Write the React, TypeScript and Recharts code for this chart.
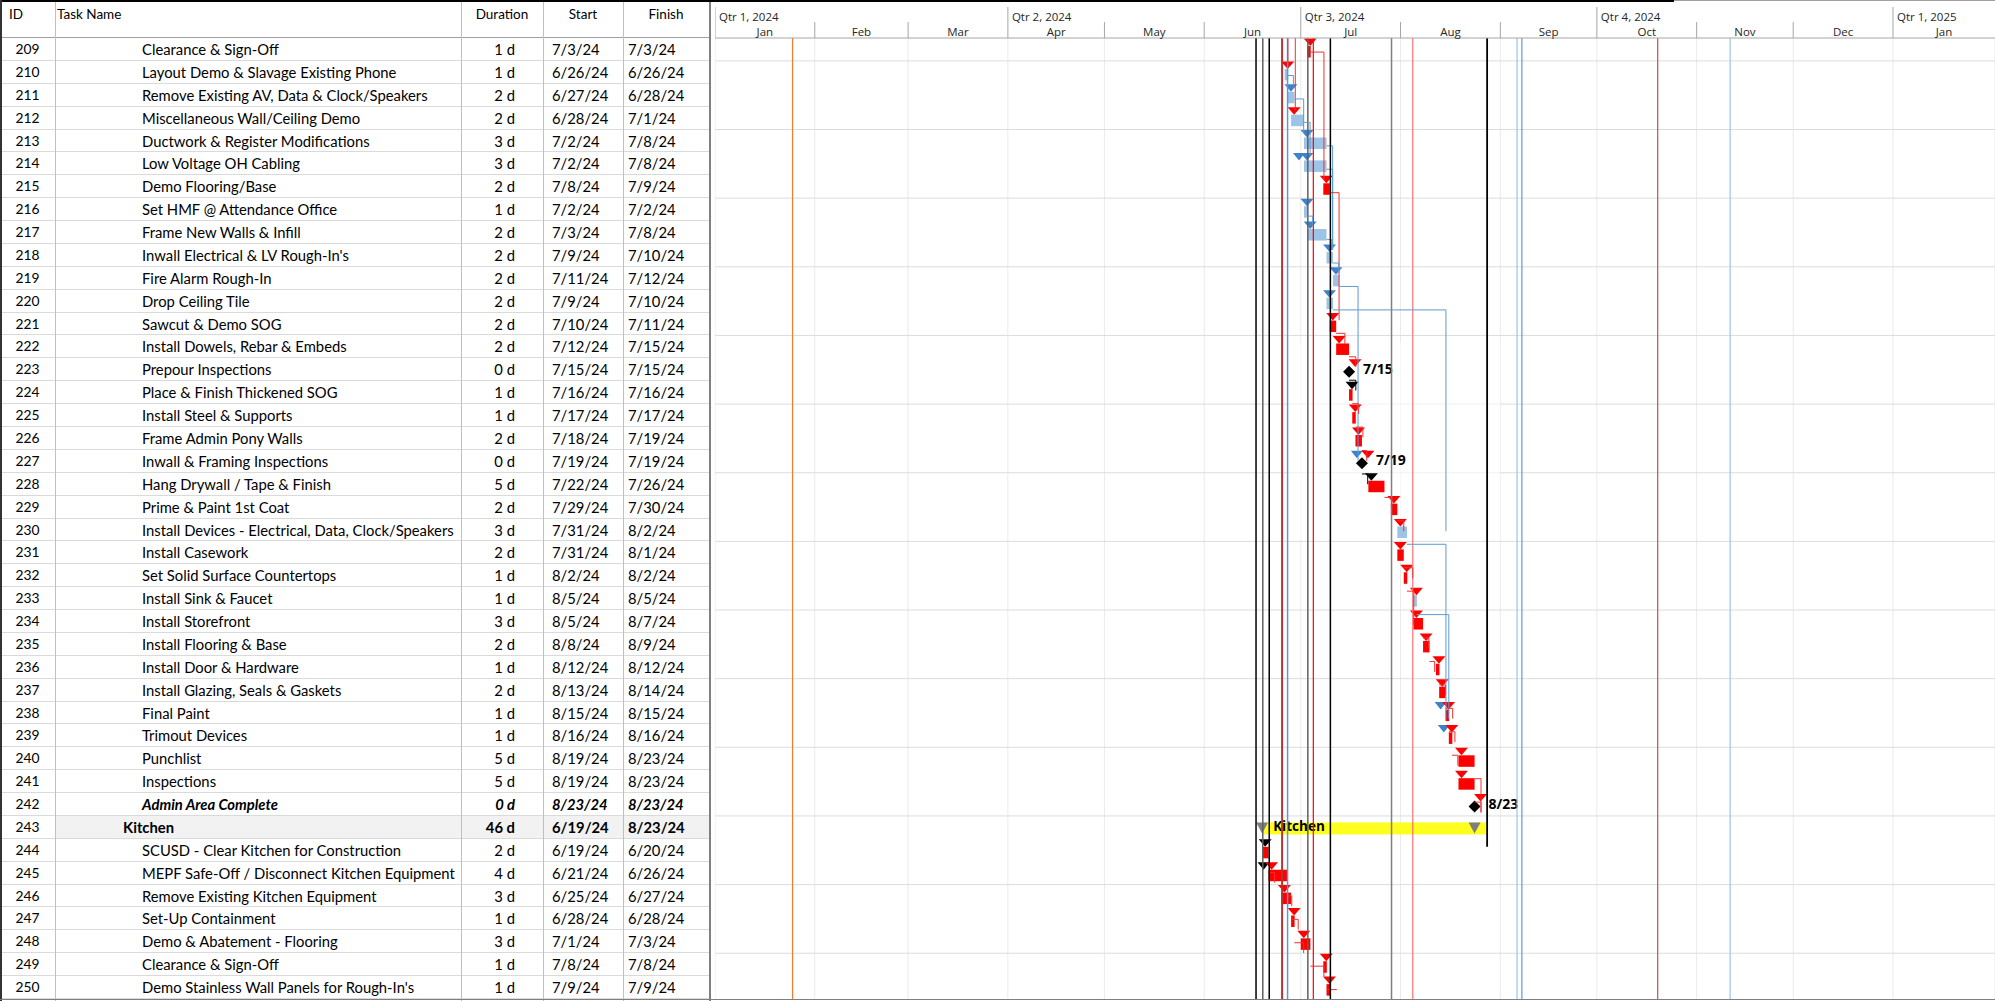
import React from 'react';
import { ComposedChart, Bar, XAxis, YAxis, CartesianGrid, ReferenceLine, ReferenceArea } from 'recharts';

// ---- task table ----
const ids = [
  209, 210, 211, 212, 213, 214, 215, 216, 217, 218, 219, 220, 221, 222, 223, 224, 225, 226, 227, 228, 229,
  230, 231, 232, 233, 234, 235, 236, 237, 238, 239, 240, 241, 242, 243, 244, 245, 246, 247, 248, 249, 250,
];

const taskNames = [
  'Clearance & Sign-Off',
  'Layout Demo & Slavage Existing Phone',
  'Remove Existing AV, Data & Clock/Speakers',
  'Miscellaneous Wall/Ceiling Demo',
  'Ductwork & Register Modifications',
  'Low Voltage OH Cabling',
  'Demo Flooring/Base',
  'Set HMF @ Attendance Office',
  'Frame New Walls & Infill',
  "Inwall Electrical & LV Rough-In's",
  'Fire Alarm Rough-In',
  'Drop Ceiling Tile',
  'Sawcut & Demo SOG',
  'Install Dowels, Rebar & Embeds',
  'Prepour Inspections',
  'Place & Finish Thickened SOG',
  'Install Steel & Supports',
  'Frame Admin Pony Walls',
  'Inwall & Framing Inspections',
  'Hang Drywall / Tape & Finish',
  'Prime & Paint 1st Coat',
  'Install Devices - Electrical, Data, Clock/Speakers',
  'Install Casework',
  'Set Solid Surface Countertops',
  'Install Sink & Faucet',
  'Install Storefront',
  'Install Flooring & Base',
  'Install Door & Hardware',
  'Install Glazing, Seals & Gaskets',
  'Final Paint',
  'Trimout Devices',
  'Punchlist',
  'Inspections',
  'Admin Area Complete',
  'Kitchen',
  'SCUSD - Clear Kitchen for Construction',
  'MEPF Safe-Off / Disconnect Kitchen Equipment',
  'Remove Existing Kitchen Equipment',
  'Set-Up Containment',
  'Demo & Abatement - Flooring',
  'Clearance & Sign-Off',
  "Demo Stainless Wall Panels for Rough-In's",
];

const durations = [
  '1 d', '1 d', '2 d', '2 d', '3 d', '3 d', '2 d', '1 d', '2 d', '2 d', '2 d', '2 d', '2 d', '2 d', '0 d',
  '1 d', '1 d', '2 d', '0 d', '5 d', '2 d', '3 d', '2 d', '1 d', '1 d', '3 d', '2 d', '1 d', '2 d', '1 d',
  '1 d', '5 d', '5 d', '0 d', '46 d', '2 d', '4 d', '3 d', '1 d', '3 d', '1 d', '1 d',
];

const startDates = [
  '7/3/24', '6/26/24', '6/27/24', '6/28/24', '7/2/24', '7/2/24', '7/8/24', '7/2/24', '7/3/24', '7/9/24',
  '7/11/24', '7/9/24', '7/10/24', '7/12/24', '7/15/24', '7/16/24', '7/17/24', '7/18/24', '7/19/24', '7/22/24',
  '7/29/24', '7/31/24', '7/31/24', '8/2/24', '8/5/24', '8/5/24', '8/8/24', '8/12/24', '8/13/24', '8/15/24',
  '8/16/24', '8/19/24', '8/19/24', '8/23/24', '6/19/24', '6/19/24', '6/21/24', '6/25/24', '6/28/24', '7/1/24',
  '7/8/24', '7/9/24',
];

const finishDates = [
  '7/3/24', '6/26/24', '6/28/24', '7/1/24', '7/8/24', '7/8/24', '7/9/24', '7/2/24', '7/8/24', '7/10/24',
  '7/12/24', '7/10/24', '7/11/24', '7/15/24', '7/15/24', '7/16/24', '7/17/24', '7/19/24', '7/19/24', '7/26/24',
  '7/30/24', '8/2/24', '8/1/24', '8/2/24', '8/5/24', '8/7/24', '8/9/24', '8/12/24', '8/14/24', '8/15/24',
  '8/16/24', '8/23/24', '8/23/24', '8/23/24', '8/23/24', '6/20/24', '6/26/24', '6/27/24', '6/28/24', '7/3/24',
  '7/8/24', '7/9/24',
];

// ---- bar styling by task ----
const summaryIds = [243];
const emphasisIds = [242];
const blueBarIds = [210, 211, 212, 213, 214, 216, 217, 218, 219, 220, 230, 233];
const markerColorById: Record<number, string> = {
  210: 'r', 212: 'r', 223: 'r', 227: 'r', 230: 'r', 233: 'r', 242: 'r', 224: 'k', 228: 'k', 244: 'k',
};
const secondMarkerById: Record<number, string> = { 214: 'b', 227: 'b', 238: 'b', 239: 'b', 245: 'k' };

// links: from task, day where the link drops, rows down, colour
const links: [number, number, number, string][] = [
  [209, 189.2, 6, 'r'], [210, 179.7, 1, 'b'], [211, 182.9, 2, 'b'], [212, 184.9, 2, 'b'],
  [213, 191.9, 5, 'b'], [214, 191.9, 4, 'b'], [215, 193.9, 6, 'r'], [216, 185.7, 1, 'b'],
  [217, 191.6, 1, 'b'], [218, 193.8, 1, 'b'], [219, 199.8, 8, 'b'], [220, 227.1, 10, 'b'],
  [221, 195.7, 1, 'r'], [222, 199.1, 1, 'r'], [223, 199.1, 1, 'k'], [224, 200.0, 1, 'r'],
  [225, 201.3, 1, 'r'], [226, 202.5, 1, 'r'], [227, 202.8, 1, 'k'], [228, 210.3, 1, 'r'],
  [229, 214.0, 1, 'r'], [230, 227.1, 8, 'b'], [231, 216.8, 1, 'r'], [232, 217.1, 2, 'r'],
  [233, 228.0, 5, 'b'], [234, 221.8, 1, 'r'], [235, 223.6, 1, 'r'], [236, 227.0, 1, 'r'],
  [237, 229.2, 1, 'r'], [238, 229.9, 1, 'r'], [239, 230.8, 1, 'r'], [240, 238.0, 2, 'r'],
  [241, 238.0, 1, 'r'], [244, 173.9, 1, 'r'], [245, 179.2, 1, 'r'], [246, 181.2, 1, 'r'],
  [247, 182.9, 1, 'r'], [248, 189.2, 1, 'r'], [249, 193.2, 1, 'r'], [250, 193.5, 1, 'r'],
];
// links coming in from tasks above the visible window
const incoming: [number, number, string][] = [[210, 178.0, 'r'], [212, 180.3, 'r']];

// ---- timescale ----
const monthStarts = [0, 31, 60, 91, 121, 152, 182, 213, 244, 274, 305, 335, 366];
const monthLabels = ['Jan', 'Feb', 'Mar', 'Apr', 'May', 'Jun', 'Jul', 'Aug', 'Sep', 'Oct', 'Nov', 'Dec', 'Jan'];
const quarterLabels = ['Qtr 1, 2024', 'Qtr 2, 2024', 'Qtr 3, 2024', 'Qtr 4, 2024', 'Qtr 1, 2025'];
const DOMAIN_END = 397.7;

// vertical marker lines (day, colour, width)
const markerLines: [number, string, number][] = [
  [24.1, '#ED7D31', 1.2], [170.2, '#606060', 1.5], [176.2, '#B83232', 2], [177.9, '#5B9BD5', 1.5],
  [184.2, '#606060', 1.5], [185.9, '#FF0000', 1.2], [210.2, '#7F7F7F', 1.5], [216.8, '#FF7070', 1.2],
  [249.2, '#9DC3E6', 1.2], [250.7, '#5B9BD5', 1.2], [292.9, '#C0504D', 1.2], [315.4, '#9DC3E6', 1.2],
];
const blackLines = [168.1, 172.2, 191.2];
const kitchenEdge = 239.9;

const COLORS: Record<string, string> = { r: '#FF0000', b: '#3D82CB', k: '#000000' };
const LINK_COLORS: Record<string, string> = { r: '#F03030', b: '#5B9BD5', k: '#000000' };

// ---- layout ----
const W = 1995;
const H = 1001;
const HEADER_H = 38;
const BOTTOM = 2;
const ROW_H = (H - HEADER_H - BOTTOM) / ids.length;
const GANTT_X = 715;
const GANTT_W = W - GANTT_X;
const PX_PER_DAY = GANTT_W / DOMAIN_END;

const dayOf = (s: string) => {
  const [m, d] = s.split('/').map(Number);
  return Math.round((Date.UTC(2024, m - 1, d) - Date.UTC(2024, 0, 1)) / 864e5);
};

const rows = ids.map((id, i) => {
  const kind = summaryIds.includes(id) ? 's' : durations[i] === '0 d' ? 'm' : 't';
  const bar = blueBarIds.includes(id) ? '#9DC3E6' : '#FF0000';
  const mk = markerColorById[id] ?? (blueBarIds.includes(id) ? 'b' : 'r');
  const s = kind === 'm' ? dayOf(finishDates[i]) : dayOf(startDates[i]);
  return {
    id: String(id),
    idx: i,
    kind,
    bar,
    tri: COLORS[mk],
    tri2: secondMarkerById[id] ? COLORS[secondMarkerById[id]] : null,
    range: [s, dayOf(finishDates[i]) + 1],
    name: taskNames[i],
    label: finishDates[i].replace(/\/24$/, ''),
  };
});

const triPath = (cx: number, top: number, w: number, h: number) =>
  `M${cx - w / 2},${top}L${cx + w / 2},${top}L${cx},${top + h}Z`;

const TaskShape = (props: any) => {
  const { x, y, width, height, payload: p } = props;
  const cy = y + height / 2;
  if (p.kind === 's') {
    const x2 = x + width;
    return (
      <g>
        {/* summary bar runs on a little past its end marker in the source */}
        <rect x={x} y={cy - 5} width={width + 12} height={12} fill="#FFFF00" fillOpacity={0.88} />
        <path d={triPath(x, cy - 5, 12, 11)} fill="#7F7F7F" />
        <path d={triPath(x2, cy - 5, 12, 11)} fill="#7F7F7F" />
        <text x={x + 11} y={cy + 4} fontFamily="Open Sans" fontWeight={700} fontSize={13.5} fill="#000">
          {p.name}
        </text>
      </g>
    );
  }
  if (p.kind === 'm') {
    const mx = x + width;
    return (
      <g>
        {p.tri2 && <path d={triPath(mx - 5, cy - 10.5, 12, 7.5)} fill={p.tri2} />}
        <path d={triPath(mx + 6, cy - 10.5, 13, 7.5)} fill={p.tri} />
        <path d={`M${mx},${cy - 4}L${mx + 6},${cy + 2}L${mx},${cy + 8}L${mx - 6},${cy + 2}Z`} fill="#000" />
        <text x={mx + 14} y={cy + 4} fontFamily="Open Sans" fontWeight={700} fontSize={14} fill="#000">
          {p.label}
        </text>
      </g>
    );
  }
  return (
    <g>
      <rect x={x} y={cy - 3.5} width={Math.max(width, 3.5)} height={11.5} fill={p.bar} />
      {p.tri2 && <path d={triPath(x - 5, cy - 11, 12, 7.5)} fill={p.tri2} />}
      <path d={triPath(x + 3, cy - 11, 13, 7.5)} fill={p.tri} />
    </g>
  );
};

const MonthTick = (props: any) => {
  const { x, payload } = props;
  const i = monthStarts.indexOf(payload.value);
  const next = monthStarts[i + 1] ?? DOMAIN_END;
  const half = ((next - payload.value) * PX_PER_DAY) / 2;
  const isQuarter = i % 3 === 0;
  return (
    <g>
      <line x1={x} x2={x} y1={isQuarter ? 7 : 22} y2={HEADER_H} stroke="#A6A6A6" />
      <text x={x + half} y={36} textAnchor="middle" fontFamily="Open Sans" fontSize={11.5} fill="#262626">
        {monthLabels[i]}
      </text>
      {isQuarter && (
        <text x={x + 4} y={20.5} fontFamily="Open Sans" fontSize={11.5} fill="#262626">
          {quarterLabels[i / 3]}
        </text>
      )}
    </g>
  );
};

const cols = [
  { x: 0, w: 55 },
  { x: 55, w: 406 },
  { x: 461, w: 82 },
  { x: 543, w: 80 },
  { x: 623, w: 86 },
];

const TaskTable = () => {
  const font = { fontFamily: 'Lato, "Open Sans", sans-serif', fontSize: 14.8, color: '#000' };
  return (
    <div style={{ position: 'absolute', left: 0, top: 0, width: 711, height: H, ...font }}>
      {/* header */}
      <div style={{ position: 'absolute', left: 9, top: 6, fontSize: 13.5 }}>ID</div>
      <div style={{ position: 'absolute', left: 57, top: 6, fontSize: 13.5 }}>Task Name</div>
      {['Duration', 'Start', 'Finish'].map((t, k) => (
        <div
          key={t}
          style={{ position: 'absolute', left: cols[k + 2].x, width: cols[k + 2].w, top: 6, textAlign: 'center', fontSize: 13.5 }}
        >
          {t}
        </div>
      ))}
      <div style={{ position: 'absolute', left: 0, top: HEADER_H - 1, width: 711, height: 1, background: '#A0A0A0' }} />
      {/* rows */}
      {rows.map((r, i) => {
        const top = HEADER_H + i * ROW_H;
        const emph = emphasisIds.includes(ids[i]);
        const bold = r.kind === 's' || emph;
        const cell = {
          position: 'absolute' as const,
          top,
          height: ROW_H,
          lineHeight: `${ROW_H}px`,
          whiteSpace: 'nowrap' as const,
          fontWeight: bold ? 700 : 400,
          fontStyle: emph ? 'italic' : 'normal',
        };
        return (
          <React.Fragment key={r.id}>
            {r.kind === 's' && (
              <div style={{ position: 'absolute', left: 55, top, width: 654, height: ROW_H, background: '#F2F2F2' }} />
            )}
            <div style={{ ...cell, left: 0, width: 55, textAlign: 'center', fontWeight: 400, fontStyle: 'normal', fontSize: 13.8 }}>
              {r.id}
            </div>
            <div style={{ ...cell, left: r.kind === 's' ? 123 : 142 }}>{r.name}</div>
            <div style={{ ...cell, left: 461, width: 82 - 28, textAlign: 'right' }}>{durations[i]}</div>
            <div style={{ ...cell, left: 552 }}>{startDates[i]}</div>
            <div style={{ ...cell, left: 628 }}>{finishDates[i]}</div>
            <div style={{ position: 'absolute', left: 0, top: top + ROW_H - 1, width: 709, height: 1, background: '#DADADA' }} />
          </React.Fragment>
        );
      })}
      {/* column lines */}
      {cols.slice(1).map((c) => (
        <div key={c.x} style={{ position: 'absolute', left: c.x, top: 0, width: 1, height: H, background: '#BFBFBF' }} />
      ))}
      <div style={{ position: 'absolute', left: 709, top: 0, width: 2, height: H, background: '#808080' }} />
    </div>
  );
};

const App = () => {
  return (
    <div style={{ position: 'absolute', left: 0, top: 0, width: W, height: H, background: '#fff', overflow: 'hidden' }}>
      <TaskTable />
      <div style={{ position: 'absolute', left: GANTT_X, top: 0 }}>
        <ComposedChart
          width={GANTT_W}
          height={H}
          data={rows}
          layout="vertical"
          margin={{ top: 0, right: 0, bottom: BOTTOM, left: 0 }}
          barCategoryGap={0}
          barGap={0}
        >
          <CartesianGrid horizontal={false} stroke="#EBEBEB" />
          <CartesianGrid
            vertical={false}
            stroke="#DCDCDC"
            horizontalCoordinatesGenerator={({ offset }: any) =>
              ids.map((_, k) => k).filter((k) => k % 3 === 1).map((k) => offset.top + (k * offset.height) / ids.length)
            }
          />
          <XAxis
            type="number"
            orientation="top"
            domain={[0, DOMAIN_END]}
            allowDataOverflow
            ticks={monthStarts}
            interval={0}
            height={HEADER_H}
            tickLine={false}
            axisLine={{ stroke: '#A6A6A6' }}
            tick={(p: any) => <MonthTick {...p} />}
          />
          <YAxis type="category" dataKey="id" hide />
          <YAxis yAxisId="n" type="number" domain={[0, ids.length]} allowDataOverflow hide />

          {markerLines.map(([d, c, w]) => (
            <ReferenceLine key={`m${d}`} x={d} yAxisId="n" stroke={c} strokeWidth={w} />
          ))}
          <ReferenceLine
            yAxisId="n"
            segment={[{ x: kitchenEdge, y: 34.5 }, { x: kitchenEdge, y: ids.length }]}
            stroke="#B5B54A"
            strokeWidth={1}
          />
          {incoming.map(([id, d, c]) => {
            const i = ids.indexOf(id);
            return (
              <ReferenceLine
                key={`in${id}`}
                yAxisId="n"
                segment={[{ x: d, y: 0 }, { x: d, y: i + 0.09 }]}
                stroke={LINK_COLORS[c]}
              />
            );
          })}
          {links.map(([id, d, n, c]) => {
            const i = ids.indexOf(id);
            const from = rows[i].range[1];
            const yEnd = Math.min(i + n + 0.04, ids.length);
            return (
              <React.Fragment key={`l${id}`}>
                <ReferenceLine
                  yAxisId="n"
                  segment={[{ x: from, y: i + 0.6 }, { x: d, y: i + 0.6 }]}
                  stroke={LINK_COLORS[c]}
                />
                <ReferenceLine
                  yAxisId="n"
                  segment={[{ x: d, y: i + 0.6 }, { x: d, y: yEnd }]}
                  stroke={LINK_COLORS[c]}
                />
              </React.Fragment>
            );
          })}
          <ReferenceArea yAxisId="n" x1={178.3} x2={244} y1={13} y2={21.4} fill="#FFFFFF" fillOpacity={0.6} stroke="none" />
          <ReferenceArea yAxisId="n" x1={150} x2={330} y1={29.7} y2={ids.length} fill="#FFFFFF" fillOpacity={0.55} stroke="none" />
          {blackLines.map((d) => (
            <ReferenceLine key={`k${d}`} x={d} yAxisId="n" stroke="#000" strokeWidth={1.5} />
          ))}
          <ReferenceLine
            yAxisId="n"
            segment={[{ x: kitchenEdge, y: 0 }, { x: kitchenEdge, y: 34.5 }]}
            stroke="#000"
            strokeWidth={1.8}
          />

          <Bar dataKey="range" isAnimationActive={false} shape={(p: any) => <TaskShape {...p} />} />
        </ComposedChart>
      </div>
      {/* frame lines */}
      <div style={{ position: 'absolute', left: 0, top: 0, width: 1674, height: 2, background: '#000' }} />
      <div style={{ position: 'absolute', left: 1674, top: 0, width: W - 1674, height: 1, background: '#A0A0A0' }} />
      <div style={{ position: 'absolute', left: 0, top: 0, width: 2, height: H, background: '#333' }} />
      <div style={{ position: 'absolute', left: 0, top: H - 2, width: W, height: 1, background: '#7F7F7F' }} />
    </div>
  );
};

export default App;
